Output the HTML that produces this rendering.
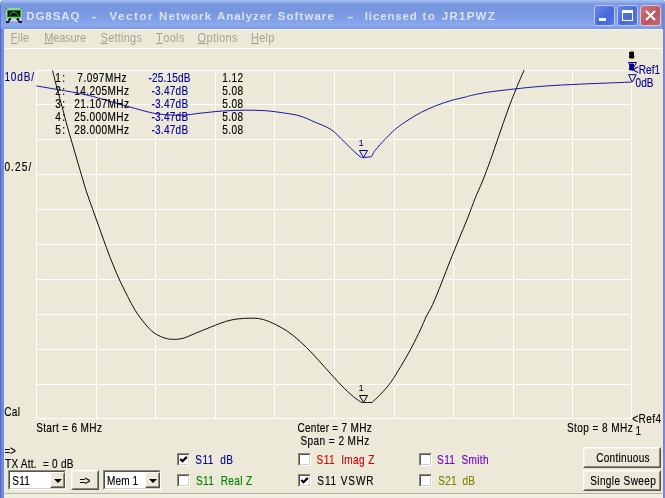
<!DOCTYPE html>
<html lang="en"><head><meta charset="utf-8"><title>DG8SAQ - Vector Network Analyzer Software</title>
<style>
html,body{margin:0;padding:0;background:#fff;}
body{width:665px;height:498px;overflow:hidden;position:relative;font-family:"Liberation Sans",sans-serif;font-size:12px;color:#000;}
#win{position:absolute;left:0;top:0;width:665px;height:498px;background:#6a80da;border-radius:4px 3px 0 0;overflow:hidden;}
#title{position:absolute;left:0;top:0;width:665px;height:29px;background:linear-gradient(#a6c0f2 0,#93b0ec 2px,#7b98e1 4px,#7896e0 10px,#7f9de5 18px,#88a7ec 24px,#85a4ea 27px,#7a99e3 28px,#7a99e3 29px);}
#client{position:absolute;left:4px;top:29px;width:657px;height:469px;background:#ece9d8;box-shadow:inset 0 1px 0 #f7f6f0;border-left:1px solid #eceaf2;border-right:1px solid #e6eafa}
#bl{position:absolute;left:0;top:29px;width:4px;height:469px;background:linear-gradient(90deg,#5a69c9 0,#5a69c9 1px,#6c82dc 1px,#6c82dc 2px,#748be2 2px,#748be2 3px,#7489d4 3px)}
#br{position:absolute;left:663px;top:4px;width:2px;height:494px;background:linear-gradient(90deg,#7a84c4 0,#7a84c4 1px,#7c88d8 1px)}
#mline{position:absolute;left:0;top:19px;width:100%;height:1px;background:#fff}
.cap{position:absolute;top:5px;width:19px;height:19px;border:1px solid #b9c9f3;border-radius:3px;background:linear-gradient(135deg,#6888e8,#4868da 58%,#5578e2);}
.cap.close{background:linear-gradient(135deg,#c9747c,#bb5661 60%,#c46b74);border-color:#e0c0cc}
.cb{position:absolute;width:13px;height:13px;box-sizing:border-box;background:#fff;border:1px solid;border-color:#8a8878 #fff #fff #8a8878;}
.cb:before{content:"";position:absolute;left:0;top:0;width:9px;height:9px;border:1px solid;border-color:#55534c #d4d0c8 #d4d0c8 #55534c}
.btn{position:absolute;box-sizing:border-box;background:#ece9d8;border:1px solid;border-color:#fff #55534c #55534c #fff;}
.btn:before{content:"";position:absolute;left:0;top:0;right:0;bottom:0;border:1px solid;border-color:#f4f2e8 #8a8878 #8a8878 #f4f2e8}
.combo{position:absolute;box-sizing:border-box;height:20px;background:#fff;border:1px solid;border-color:#8a8878 #fff #fff #8a8878;}
.combo:before{content:"";position:absolute;left:0;top:0;right:0;bottom:0;border:1px solid;border-color:#55534c #d4d0c8 #d4d0c8 #55534c}
.combo .dd{position:absolute;right:0;top:1px;width:15px;height:16px;box-sizing:border-box;background:#ece9d8;border:1px solid;border-color:#fff #55534c #55534c #fff;}
.combo .dd:before{content:"";position:absolute;left:0;top:0;right:0;bottom:0;border:1px solid;border-color:#ece9d8 #8a8878 #8a8878 #ece9d8}
.combo .dd:after{content:"";position:absolute;left:2.5px;top:5.7px;border:solid transparent;border-width:4.6px 4px 0 4px;border-top-color:#000}
#status{position:absolute;left:5px;top:493px;width:657px;height:5px;background:#f1efe2;border-top:1px solid #b5b2a0}
svg text{font-family:"Liberation Sans",sans-serif;font-size:12px;white-space:pre;stroke-width:0.15px}
svg.ov{position:absolute;left:0;top:0;will-change:transform}
#menu text{font-size:12px}
#ttl text{font-size:11.5px}
svg .mk text{font-size:9.5px;stroke-width:0.55px}
</style></head><body>
<div id="win">
 <div id="title">
  <svg style="position:absolute;left:6px;top:8px" width="16" height="16" viewBox="0 0 16 16">
   <rect x="0" y="0" width="16" height="10.6" rx="0.8" fill="#8fdc8f"/>
   <rect x="0.2" y="0.2" width="0.9" height="0.9" fill="#111"/><rect x="14.9" y="0.2" width="0.9" height="0.9" fill="#111"/>
   <rect x="1.6" y="2.3" width="12.8" height="6.6" fill="#041a04" stroke="#249424" stroke-width="0.8"/>
   <path d="M3.6 7.6 Q5.4 3.9 7.8 4 T12.6 8" fill="none" stroke="#7aa07a" stroke-width="0.8"/><path d="M7.8 2.8 V4" stroke="#5a9a5a" stroke-width="0.6"/>
   <rect x="0.6" y="10.6" width="14.8" height="2.6" fill="#d6dad6"/>
   <circle cx="3.8" cy="11.2" r="1.25" fill="#0a0a1a"/><circle cx="11.8" cy="11.2" r="1.25" fill="#0a0a1a"/>
   <path d="M3.8 11.4 L2.2 13.6 M11.8 11.4 L13.6 13.6" stroke="#0a0a1a" stroke-width="1.3"/>
   <rect x="0" y="13.1" width="3.3" height="1.8" fill="#0a0a0a"/><rect x="12.5" y="13.1" width="3.5" height="1.8" fill="#0a0a0a"/>
  </svg>
  <svg class="ov" width="665" height="29" style="font-weight:bold" fill="#d9e3f7"><g id="ttl"><text transform="translate(26.3 19.5) scale(1 1)" textLength="53.1" lengthAdjust="spacing">DG8SAQ</text><text x="91" y="19.5" textLength="6.0" lengthAdjust="spacingAndGlyphs">-</text><text transform="translate(109.4 19.5) scale(1 1)" textLength="43.1" lengthAdjust="spacing">Vector</text><text transform="translate(159.0 19.5) scale(1 1)" textLength="52.1" lengthAdjust="spacing">Network</text><text transform="translate(216.9 19.5) scale(1 1)" textLength="54.7" lengthAdjust="spacing">Analyzer</text><text transform="translate(277.8 19.5) scale(1 1)" textLength="56.0" lengthAdjust="spacing">Software</text><text x="346.7" y="19.5" textLength="6.9" lengthAdjust="spacingAndGlyphs">-</text><text transform="translate(364.8 19.5) scale(1 1)" textLength="52.1" lengthAdjust="spacing">licensed</text><text transform="translate(422.6 19.5) scale(1 1)" textLength="12.1" lengthAdjust="spacing">to</text><text transform="translate(441.7 19.5) scale(1 1)" textLength="53.1" lengthAdjust="spacing">JR1PWZ</text></g></svg>
  <div class="cap" style="left:594px"><div style="position:absolute;left:4px;top:12px;width:7px;height:3px;background:#fff"></div></div>
  <div class="cap" style="left:617px"><div style="position:absolute;left:4px;top:4px;width:9px;height:7px;border:1px solid #fff;border-top-width:3px"></div></div>
  <div class="cap close" style="left:640px"><svg width="19" height="19" style="position:absolute;left:0;top:0"><path d="M5 5 L14 14 M14 5 L5 14" stroke="#fff" stroke-width="2.1" fill="none"/></svg></div>
 </div>
 <div id="bl"></div>
 <div id="br"></div><div style="position:absolute;left:0;top:5px;width:1px;height:24px;background:#6872d6"></div><div style="position:absolute;left:662px;top:4px;width:1px;height:25px;background:#7680d8"></div>
 <div id="client">
  <div id="mline"></div>
 </div>
 <svg class="ov" id="menu" width="665" height="50" fill="#a6a396" style="font-size:12px"><text transform="translate(10.8 41.8) scale(0.92 1)" textLength="20.0" lengthAdjust="spacing"><tspan text-decoration="underline">F</tspan>ile</text><text transform="translate(44.2 41.8) scale(0.92 1)" textLength="45.5" lengthAdjust="spacing"><tspan text-decoration="underline">M</tspan>easure</text><text transform="translate(100.6 41.8) scale(0.92 1)" textLength="45.0" lengthAdjust="spacing"><tspan text-decoration="underline">S</tspan>ettings</text><text transform="translate(156.1 41.8) scale(0.92 1)" textLength="30.8" lengthAdjust="spacing"><tspan text-decoration="underline">T</tspan>ools</text><text transform="translate(197.6 41.8) scale(0.92 1)" textLength="43.3" lengthAdjust="spacing"><tspan text-decoration="underline">O</tspan>ptions</text><text transform="translate(251.1 41.8) scale(0.92 1)" textLength="25.3" lengthAdjust="spacing"><tspan text-decoration="underline">H</tspan>elp</text></svg>
 <svg class="ov" id="chart" width="665" height="498" viewBox="0 0 665 498">
  <g stroke="#fff" stroke-width="1" shape-rendering="crispEdges"><line x1="36.5" y1="70" x2="36.5" y2="419"/><line x1="96.5" y1="70" x2="96.5" y2="419"/><line x1="155.5" y1="70" x2="155.5" y2="419"/><line x1="215.5" y1="70" x2="215.5" y2="419"/><line x1="274.5" y1="70" x2="274.5" y2="419"/><line x1="334.5" y1="70" x2="334.5" y2="419"/><line x1="394.5" y1="70" x2="394.5" y2="419"/><line x1="453.5" y1="70" x2="453.5" y2="419"/><line x1="513.5" y1="70" x2="513.5" y2="419"/><line x1="572.5" y1="70" x2="572.5" y2="419"/><line x1="631.5" y1="70" x2="631.5" y2="419"/><line x1="36" y1="70.5" x2="632" y2="70.5"/><line x1="36" y1="104.5" x2="632" y2="104.5"/><line x1="36" y1="139.5" x2="632" y2="139.5"/><line x1="36" y1="174.5" x2="632" y2="174.5"/><line x1="36" y1="209.5" x2="632" y2="209.5"/><line x1="36" y1="244.5" x2="632" y2="244.5"/><line x1="36" y1="279.5" x2="632" y2="279.5"/><line x1="36" y1="314.5" x2="632" y2="314.5"/><line x1="36" y1="349.5" x2="632" y2="349.5"/><line x1="36" y1="384.5" x2="632" y2="384.5"/><line x1="36" y1="418.5" x2="632" y2="418.5"/></g>
  <path d="M36.3 85.9 C39.8 86.5 49.0 88.0 57.6 89.6 C66.2 91.1 76.1 92.4 87.8 95.2 C99.5 98.0 116.7 103.5 128.0 106.5 C139.3 109.5 146.8 112.0 155.6 113.5 C164.4 115.0 173.3 115.3 180.7 115.3 C188.1 115.2 193.1 113.9 200.1 113.2 C207.1 112.5 215.2 111.5 222.7 111.0 C230.2 110.5 238.2 110.2 245.3 110.2 C252.4 110.2 258.7 110.2 265.4 110.7 C272.1 111.2 279.7 112.3 285.5 113.2 C291.3 114.1 295.1 114.5 300.0 116.0 C304.9 117.5 310.1 120.0 315.1 122.2 C320.1 124.4 326.0 126.4 330.2 129.0 C334.4 131.6 336.8 134.6 340.2 137.7 C343.6 140.8 347.2 144.8 350.3 147.8 C353.4 150.8 356.9 154.1 359.0 155.8 C361.1 157.5 362.2 157.5 362.8 157.8  C364.3 157.6 370.1 156.8 371.6 156.6  C372.0 155.8 373.7 152.4 374.1 151.6  C375.6 149.9 379.3 145.3 382.9 141.5 C386.5 137.7 391.3 132.6 395.5 129.0 C399.7 125.5 403.8 122.9 408.0 120.2 C412.2 117.5 416.0 115.0 420.6 112.6 C425.2 110.2 430.7 107.8 435.7 105.8 C440.7 103.8 445.8 102.1 450.8 100.6 C455.8 99.1 462.6 97.8 465.8 97.0 C469.0 96.2 466.6 96.5 470.2 95.7 C473.8 94.9 480.2 93.3 487.7 92.2 C495.2 91.1 506.6 89.9 515.4 88.9 C524.2 87.9 531.3 87.1 540.5 86.4 C549.7 85.7 559.8 85.1 570.7 84.6 C581.6 84.0 595.6 83.5 605.8 83.1 C616.0 82.7 627.6 82.2 632.0 82.0" fill="none" stroke="#1414a8" stroke-width="1" stroke-linejoin="round"/>
  <path d="M52.6 70.5 C53.3 73.4 55.3 81.6 57.0 88.0 C58.7 94.4 60.9 102.4 62.7 109.0 C64.5 115.6 65.4 119.6 67.7 127.8 C70.0 136.0 73.9 149.0 76.5 158.0 C79.1 167.0 81.7 175.8 83.5 182.0 C85.3 188.2 85.9 189.9 87.6 195.0 C89.3 200.1 91.8 206.8 93.9 212.7 C96.0 218.6 98.1 224.5 100.2 230.3 C102.3 236.2 104.4 242.2 106.5 247.8 C108.6 253.5 110.5 258.7 112.8 264.2 C115.0 269.7 117.5 275.6 120.0 281.0 C122.5 286.4 125.2 291.6 127.7 296.5 C130.2 301.4 132.2 305.6 135.1 310.2 C138.0 314.8 142.0 320.2 145.2 324.0 C148.3 327.8 150.9 330.5 154.0 332.8 C157.1 335.1 160.9 336.7 164.0 337.8 C167.1 338.9 169.7 339.2 172.8 339.3 C176.0 339.4 179.1 339.3 182.9 338.3 C186.7 337.3 190.8 335.2 195.4 333.3 C200.0 331.4 205.5 329.2 210.5 327.2 C215.5 325.2 221.0 322.9 225.6 321.5 C230.2 320.1 233.9 319.4 238.1 318.9 C242.3 318.3 246.9 318.2 250.7 318.2 C254.5 318.2 257.4 318.2 261.0 319.0 C264.6 319.8 268.2 321.0 272.6 323.1 C277.0 325.2 283.0 328.3 287.6 331.4 C292.2 334.5 296.0 337.7 300.2 341.5 C304.4 345.3 308.6 349.6 312.8 354.0 C317.0 358.4 321.1 363.2 325.3 367.8 C329.5 372.4 333.7 377.3 337.9 381.7 C342.1 386.1 346.7 390.8 350.5 394.2 C354.3 397.6 358.4 400.4 360.5 401.8 C362.6 403.2 362.6 402.4 363.0 402.5  C364.5 402.5 370.3 402.5 371.8 402.5  C373.3 401.1 377.5 397.6 380.6 394.2 C383.8 390.8 387.4 387.0 390.7 382.4 C394.0 377.8 397.3 372.2 400.7 366.6 C404.1 361.0 407.4 355.3 410.8 349.0 C414.2 342.7 418.3 334.2 420.8 328.9 C423.3 323.6 424.0 321.1 426.0 317.0 C428.0 312.9 430.1 310.1 432.7 304.4 C435.3 298.7 438.6 290.3 441.5 283.0 C444.4 275.7 447.4 267.7 450.3 260.4 C453.2 253.1 456.1 246.1 459.0 239.0 C461.9 231.9 465.1 224.6 467.8 217.7 C470.5 210.8 473.0 203.5 475.4 197.6 C477.8 191.7 479.7 188.2 482.2 182.0 C484.7 175.8 487.5 168.3 490.3 160.5 C493.1 152.7 496.1 143.8 499.0 135.4 C501.9 127.0 504.9 118.3 507.8 110.3 C510.7 102.3 513.9 94.3 516.6 87.6 C519.3 80.9 522.9 72.9 524.2 70.0" fill="none" stroke="#0c0c0c" stroke-width="1" stroke-linejoin="round"/>
  <g fill="#000" stroke="#000"><text transform="translate(55.2 82) scale(0.84 1)" textLength="11.7" lengthAdjust="spacing">1:</text><text transform="translate(77.3 82) scale(0.84 1)" textLength="58.7" lengthAdjust="spacing">7.097MHz</text><text transform="translate(148.4 82) scale(0.84 1)" textLength="50.0" lengthAdjust="spacing" fill="#000098" stroke="#000098">-25.15dB</text><text transform="translate(222.3 82) scale(0.84 1)" textLength="24.9" lengthAdjust="spacing">1.12</text><text transform="translate(55.2 95) scale(0.84 1)" textLength="11.7" lengthAdjust="spacing">2:</text><text transform="translate(74.3 95) scale(0.84 1)" textLength="65.2" lengthAdjust="spacing">14.205MHz</text><text transform="translate(151.4 95) scale(0.84 1)" textLength="43.8" lengthAdjust="spacing" fill="#000098" stroke="#000098">-3.47dB</text><text transform="translate(222.3 95) scale(0.84 1)" textLength="24.9" lengthAdjust="spacing">5.08</text><text transform="translate(55.2 108) scale(0.84 1)" textLength="11.7" lengthAdjust="spacing">3:</text><text transform="translate(74.3 108) scale(0.84 1)" textLength="65.2" lengthAdjust="spacing">21.107MHz</text><text transform="translate(151.4 108) scale(0.84 1)" textLength="43.8" lengthAdjust="spacing" fill="#000098" stroke="#000098">-3.47dB</text><text transform="translate(222.3 108) scale(0.84 1)" textLength="24.9" lengthAdjust="spacing">5.08</text><text transform="translate(55.2 121) scale(0.84 1)" textLength="11.7" lengthAdjust="spacing">4:</text><text transform="translate(74.3 121) scale(0.84 1)" textLength="65.2" lengthAdjust="spacing">25.000MHz</text><text transform="translate(151.4 121) scale(0.84 1)" textLength="43.8" lengthAdjust="spacing" fill="#000098" stroke="#000098">-3.47dB</text><text transform="translate(222.3 121) scale(0.84 1)" textLength="24.9" lengthAdjust="spacing">5.08</text><text transform="translate(55.2 134) scale(0.84 1)" textLength="11.7" lengthAdjust="spacing">5:</text><text transform="translate(74.3 134) scale(0.84 1)" textLength="65.2" lengthAdjust="spacing">28.000MHz</text><text transform="translate(151.4 134) scale(0.84 1)" textLength="43.8" lengthAdjust="spacing" fill="#000098" stroke="#000098">-3.47dB</text><text transform="translate(222.3 134) scale(0.84 1)" textLength="24.9" lengthAdjust="spacing">5.08</text></g>
  <g fill="#000" stroke="#000"><text transform="translate(4.4 81) scale(0.84 1)" textLength="35.4" lengthAdjust="spacing" fill="#000098" stroke="#000098">10dB/</text><text transform="translate(4.4 171) scale(0.84 1)" textLength="31.9" lengthAdjust="spacing">0.25/</text><text transform="translate(4.2 416) scale(0.84 1)" textLength="18.7" lengthAdjust="spacing">Cal</text><text transform="translate(36.2 431.5) scale(0.84 1)" textLength="78.3" lengthAdjust="spacing">Start = 6 MHz</text><text transform="translate(297.4 431.5) scale(0.84 1)" textLength="88.6" lengthAdjust="spacing">Center = 7 MHz</text><text transform="translate(300.4 445) scale(0.84 1)" textLength="81.9" lengthAdjust="spacing">Span = 2 MHz</text><text transform="translate(567.0 431.5) scale(0.84 1)" textLength="78.3" lengthAdjust="spacing">Stop = 8 MHz</text><text transform="translate(632.3 423) scale(0.84 1)" textLength="34.4" lengthAdjust="spacing">&lt;Ref4</text><text transform="translate(635.6 435) scale(0.84 1)" textLength="4.9" lengthAdjust="spacing">1</text><text transform="translate(632.8 73.6) scale(0.84 1)" textLength="32.6" lengthAdjust="spacing" fill="#000098" stroke="#000098">&lt;Ref1</text><text transform="translate(635.5 86.8) scale(0.84 1)" textLength="21.5" lengthAdjust="spacing" fill="#000098" stroke="#000098">0dB</text></g>
  <!-- markers -->
  <g fill="none" stroke="#000" stroke-width="1"><path d="M359.5 395.5 H367.5 L363.5 402.5 Z"/></g>
  <text x="358.6" y="391" style="font-size:9.5px">1</text>
  <g fill="none" stroke="#000080" stroke-width="1"><path d="M359.5 150.5 H367.5 L363.5 157.5 Z"/><path d="M628.5 74.7 H636.2 L632.4 82 Z"/></g>
  <text x="358.6" y="146" fill="#00008c" style="font-size:9.5px">1</text>
  <g fill="none" stroke="#00008c" stroke-width="1"><path d="M628.5 62.5 H636.5 L632.5 69.5 Z"/></g>
  <g class="mk" fill="#00008c" stroke="#00008c"><text x="629" y="69.5">2</text><text x="629" y="69.5">3</text><text x="629" y="69.5">4</text><text x="629" y="69.5">5</text></g>
  <g class="mk" fill="#000" stroke="#000"><text x="629" y="57.8">2</text><text x="629" y="57.8">3</text><text x="629" y="57.8">4</text><text x="629" y="57.8">5</text></g>
 </svg>
 <div id="ctrl" style="position:absolute;left:0;top:0">
  <div class="combo" style="left:8px;top:470px;width:58px"><span class="dd"></span></div>
  <div class="btn" style="left:71px;top:470px;width:28px;height:20px"></div>
  <div class="combo" style="left:103px;top:470px;width:58px"><span class="dd"></span></div>
  <div class="cb" style="left:177px;top:453px"><svg width="11" height="11" style="position:absolute;left:0;top:0"><path d="M2.3 5 L4.5 7.2 L8.8 2.9" stroke="#000" stroke-width="2.2" fill="none"/></svg></div>
  <div class="cb" style="left:177px;top:474px"></div>
  <div class="cb" style="left:298px;top:453px"></div>
  <div class="cb" style="left:298px;top:474px"><svg width="11" height="11" style="position:absolute;left:0;top:0"><path d="M2.3 5 L4.5 7.2 L8.8 2.9" stroke="#000" stroke-width="2.2" fill="none"/></svg></div>
  <div class="cb" style="left:419px;top:453px"></div>
  <div class="cb" style="left:419px;top:474px"></div>
  <div class="btn" style="left:583px;top:447px;width:78px;height:21px"></div>
  <div class="btn" style="left:583px;top:470px;width:78px;height:21px"></div>
 </div>
 <div id="status"></div>
 <svg class="ov" id="ctrltext" width="665" height="498" fill="#000" stroke="#000"><text transform="translate(4.6 455) scale(0.84 1)" textLength="13.5" lengthAdjust="spacing">=&gt;</text><text transform="translate(5.0 467.5) scale(0.84 1)" textLength="81.5" lengthAdjust="spacing">TX Att.  = 0 dB</text><text transform="translate(12.2 484.7) scale(0.84 1)" textLength="21.1" lengthAdjust="spacing">S11</text><text transform="translate(106.9 484.7) scale(0.84 1)" textLength="37.3" lengthAdjust="spacing">Mem 1</text><text transform="translate(79.5 485) scale(0.84 1)" textLength="12.9" lengthAdjust="spacing">=&gt;</text><text transform="translate(195.3 464) scale(0.84 1)" textLength="45.0" lengthAdjust="spacing" fill="#000098" stroke="#000098">S11  dB</text><text transform="translate(196.0 485) scale(0.84 1)" textLength="67.0" lengthAdjust="spacing" fill="#008000" stroke="#008000">S11  Real Z</text><text transform="translate(316.6 464) scale(0.84 1)" textLength="68.8" lengthAdjust="spacing" fill="#c80808" stroke="#c80808">S11  Imag Z</text><text transform="translate(317.3 485) scale(0.84 1)" textLength="67.0" lengthAdjust="spacing">S11 VSWR</text><text transform="translate(437.1 464) scale(0.84 1)" textLength="61.2" lengthAdjust="spacing" fill="#7000d0" stroke="#7000d0">S11  Smith</text><text transform="translate(438.3 485) scale(0.84 1)" textLength="43.6" lengthAdjust="spacing" fill="#808000" stroke="#808000">S21  dB</text><text transform="translate(596.2 462) scale(0.84 1)" textLength="63.6" lengthAdjust="spacing">Continuous</text><text transform="translate(590.2 484.5) scale(0.84 1)" textLength="78.2" lengthAdjust="spacing">Single Sweep</text></svg>
</div>
</body></html>
